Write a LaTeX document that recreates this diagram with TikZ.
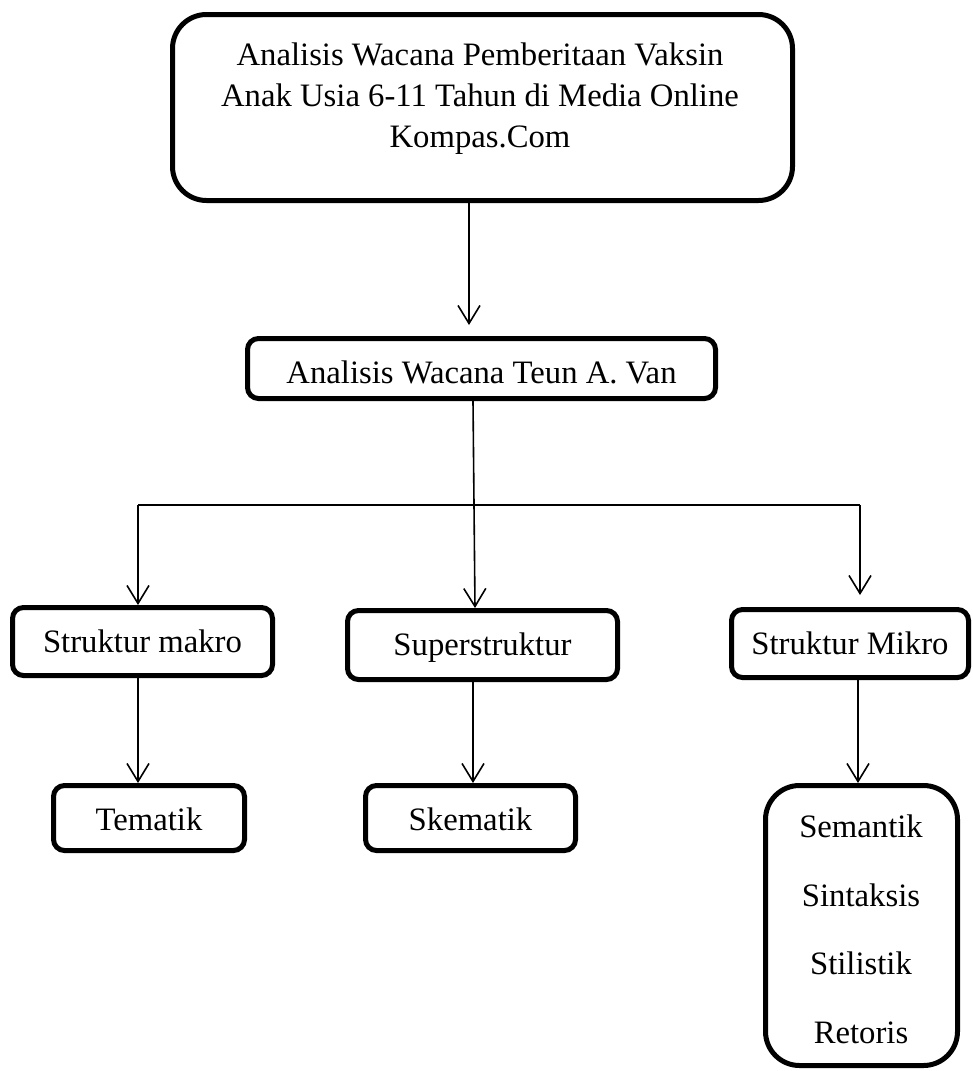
\documentclass[tikz,border=0pt]{standalone}
\usepackage{fontspec}
\setmainfont{Liberation Serif}
\usetikzlibrary{arrows.meta}
\begin{document}
\begin{tikzpicture}[x=1pt,y=-1pt,
  box/.style={draw, line width=5pt, rounded corners=11pt, inner sep=0pt,
    font=\fontsize{32.7}{42}\selectfont, text depth=0pt},
  bigbox/.style={draw, line width=5pt, rounded corners=34pt, inner sep=0pt},
  txt/.style={inner sep=0pt, anchor=base, font=\fontsize{32.7}{42}\selectfont},
  conn/.style={line width=1.6pt},
  arr/.style={conn, -{Straight Barb[length=18pt,width=22pt,line width=1.6pt]}}]
\useasboundingbox[fill=white] (0,0) rectangle (973,1071);

% top box
\node[bigbox, minimum width=620pt, minimum height=186pt] (top) at (482.5,107.5) {};
\node[txt] (t1) at (480,65) {Analisis Wacana Pemberitaan Vaksin};
\node[txt] (t2) at (480,106) {Anak Usia 6-11 Tahun di Media Online};
\node[txt] (t3) at (480,147) {Kompas.Com};

% second level
\node[box, minimum width=468pt, minimum height=60pt, text height=29pt] (van) at (481.5,368.5) {Analisis Wacana Teun A. Van};

% third level
\node[box, minimum width=260pt, minimum height=68pt, text height=22pt] (makro) at (142.5,641.5) {Struktur makro};
\node[box, minimum width=270pt, minimum height=69pt, text height=21pt] (super) at (482.5,645) {Superstruktur};
\node[box, minimum width=237pt, minimum height=68pt, text height=21pt] (mikro) at (850,643.5) {Struktur Mikro};

% fourth level
\node[box, minimum width=191pt, minimum height=65pt, text height=24pt] (tematik) at (149,818) {Tematik};
\node[box, minimum width=210pt, minimum height=65pt, text height=24pt] (skematik) at (470.5,818) {Skematik};
\node[bigbox, minimum width=192pt, minimum height=280pt] (tall) at (861.5,925.5) {};
\node[txt] (s1) at (861,837) {Semantik};
\node[txt] (s2) at (861,906) {Sintaksis};
\node[txt] (s3) at (861,974) {Stilistik};
\node[txt] (s4) at (861,1043) {Retoris};

% connectors
\coordinate (hl) at (138,505);
\coordinate (hr) at (860,505);
\coordinate (rt) at (860,595);

\draw[arr] ([xshift=-13.5pt]top.south) -- ([xshift=-12.5pt,yshift=11pt]van.north);
\draw[arr] ([xshift=-8.5pt]van.south) -- ([xshift=-7.5pt]super.north);
\draw[conn] (hl) -- (hr);
\draw[arr] (hl) -- (hl |- makro.north);
\draw[arr] (hr) -- (rt);

\draw[arr] (makro.south -| hl) -- (tematik.north -| hl);
\draw[arr] ([xshift=-9.5pt]super.south) -- ([xshift=2.5pt]skematik.north);
\draw[arr] ([xshift=8pt]mikro.south) -- ([xshift=-3.5pt]tall.north);
\end{tikzpicture}
\end{document}
